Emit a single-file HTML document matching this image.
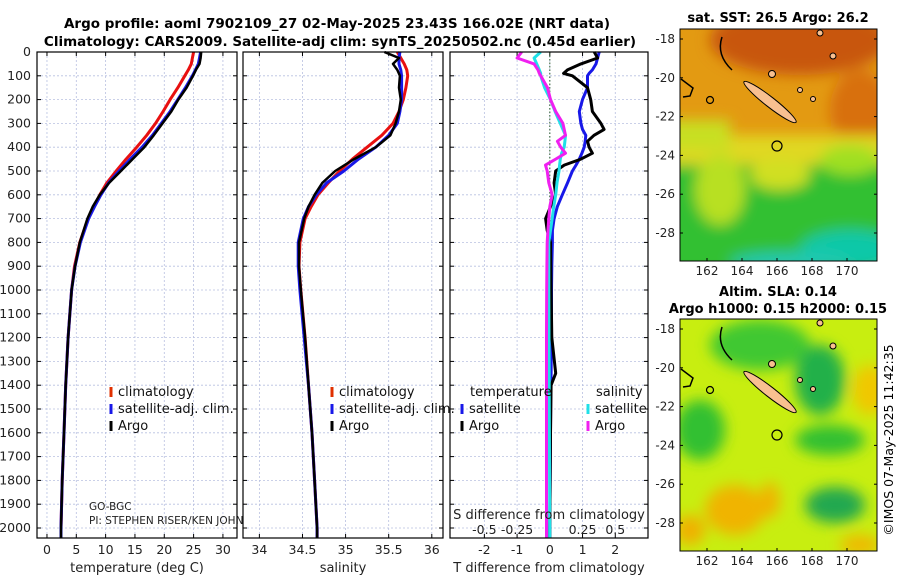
<!DOCTYPE html>
<html><head><meta charset="utf-8"><style>
html,body{margin:0;padding:0;background:#fff}
svg{display:block;font-family:"DejaVu Sans","Liberation Sans",sans-serif}
</style></head><body>
<svg id="fig" width="900" height="580" viewBox="0 0 900 580" xmlns="http://www.w3.org/2000/svg">
<defs>
<filter id="blur6" x="-50%" y="-50%" width="200%" height="200%"><feGaussianBlur stdDeviation="7"/></filter>
<clipPath id="cm1"><rect x="680" y="29" width="197" height="232"/></clipPath>
<clipPath id="cm2"><rect x="680" y="319" width="197" height="232"/></clipPath>
</defs>
<g font-weight="bold" font-size="13.5" text-anchor="middle">
<text x="337" y="28">Argo profile: aoml 7902109_27 02-May-2025 23.43S 166.02E (NRT data)</text>
<text x="340" y="46">Climatology: CARS2009. Satellite-adj clim: synTS_20250502.nc (0.45d earlier)</text>
</g>
<g id="panels"></g>

<!-- top map -->
<g>
<text x="778" y="22" font-size="13" font-weight="bold" text-anchor="middle">sat. SST: 26.5 Argo: 26.2</text>
<g clip-path="url(#cm1)">
<rect x="680" y="29" width="197" height="232" fill="#e39a12"/>
<g filter="url(#blur6)">
<ellipse cx="800" cy="40" rx="90" ry="35" fill="#c8560c"/>
<ellipse cx="860" cy="110" rx="30" ry="40" fill="#d87010"/>
<rect x="660" y="135" width="240" height="40" fill="#e0d820"/>
<rect x="660" y="120" width="70" height="30" fill="#c8e020"/>
<rect x="660" y="165" width="240" height="110" fill="#30c030"/>
<ellipse cx="720" cy="190" rx="25" ry="35" fill="#b8e020"/>
<ellipse cx="780" cy="175" rx="30" ry="15" fill="#d0e020"/>
<ellipse cx="850" cy="160" rx="30" ry="15" fill="#a0e020"/>
<ellipse cx="850" cy="250" rx="50" ry="20" fill="#10c8a8"/>
<ellipse cx="790" cy="262" rx="60" ry="10" fill="#20c8b0"/>
</g>
</g>
<rect x="680" y="29" width="197" height="232" fill="none" stroke="#000" stroke-width="1"/>
<ellipse cx="770" cy="102" rx="33" ry="5" transform="rotate(38 770 102)" fill="#f8c090" stroke="#000" stroke-width="1"/>
<path d="M722,37 Q716,55 732,70 M681,79 L693,88 L690,96 L683,97" fill="none" stroke="#000" stroke-width="1.5"/>
<circle cx="710" cy="100" r="3.5" fill="none" stroke="#000" stroke-width="1.2"/>
<circle cx="777" cy="146" r="5" fill="none" stroke="#000" stroke-width="1.2"/>
<circle cx="772" cy="74" r="3.5" fill="#f8c090" stroke="#000"/>
<circle cx="800" cy="90" r="2.5" fill="#f8c090" stroke="#000"/>
<circle cx="813" cy="99" r="2.5" fill="#f8c090" stroke="#000"/>
<circle cx="820" cy="33" r="3" fill="#f8c090" stroke="#000"/>
<circle cx="833" cy="56" r="3" fill="#f8c090" stroke="#000"/>
</g>

<!-- bottom map -->
<g>
<text x="778" y="296" font-size="13" font-weight="bold" text-anchor="middle">Altim. SLA: 0.14</text>
<text x="778" y="313" font-size="13" font-weight="bold" text-anchor="middle">Argo h1000: 0.15 h2000: 0.15</text>
<g clip-path="url(#cm2)">
<rect x="680" y="319" width="197" height="232" fill="#c8ee10"/>
<g filter="url(#blur6)">
<ellipse cx="760" cy="345" rx="50" ry="25" fill="#40c830"/>
<ellipse cx="820" cy="380" rx="25" ry="35" fill="#20b048"/>
<ellipse cx="700" cy="430" rx="25" ry="30" fill="#30c030"/>
<ellipse cx="830" cy="440" rx="35" ry="15" fill="#30c030"/>
<ellipse cx="835" cy="505" rx="30" ry="18" fill="#20a850"/>
<ellipse cx="870" cy="390" rx="18" ry="25" fill="#f0c800"/>
<ellipse cx="735" cy="510" rx="30" ry="25" fill="#f0b400"/>
<ellipse cx="770" cy="500" rx="10" ry="18" fill="#f0b400"/>
<ellipse cx="690" cy="530" rx="15" ry="15" fill="#f0b000"/>
<ellipse cx="860" cy="545" rx="20" ry="10" fill="#f0b800"/>
</g>
</g>
<rect x="680" y="319" width="197" height="232" fill="none" stroke="#000" stroke-width="1"/>
<ellipse cx="770" cy="392" rx="33" ry="5" transform="rotate(38 770 392)" fill="#f8c090" stroke="#000" stroke-width="1"/>
<path d="M722,327 Q716,345 732,360 M681,369 L693,378 L690,386 L683,387" fill="none" stroke="#000" stroke-width="1.5"/>
<circle cx="710" cy="390" r="3.5" fill="none" stroke="#000" stroke-width="1.2"/>
<circle cx="777" cy="435" r="5" fill="none" stroke="#000" stroke-width="1.2"/>
<circle cx="772" cy="364" r="3.5" fill="#f8c090" stroke="#000"/>
<circle cx="800" cy="380" r="2.5" fill="#f8c090" stroke="#000"/>
<circle cx="813" cy="389" r="2.5" fill="#f8c090" stroke="#000"/>
<circle cx="820" cy="323" r="3" fill="#f8c090" stroke="#000"/>
<circle cx="833" cy="346" r="3" fill="#f8c090" stroke="#000"/>
</g>
<text transform="translate(893,440) rotate(-90)" font-size="12.5" text-anchor="middle">©IMOS 07-May-2025 11:42:35</text>
<g id="maptix"></g>
</svg>
<script>
const NS="http://www.w3.org/2000/svg";
const depths=[0,25,50,75,100,150,200,250,300,350,400,450,500,550,600,650,700,800,900,1000,1200,1400,1600,1800,2000,2040];
const tClim=[25.0,24.8,24.6,24.1,23.5,22.3,21.0,19.8,18.5,17.0,15.3,13.5,11.8,10.2,9.0,8.0,7.0,5.6,4.7,4.2,3.6,3.2,2.9,2.6,2.4,2.4];
const tSat=[26.2,26.0,25.8,25.3,24.8,23.6,22.3,21.0,19.5,18.0,16.2,14.2,12.3,10.5,9.2,8.1,7.1,5.7,4.8,4.2,3.6,3.2,2.9,2.6,2.4,2.4];
const tArgo=[26.3,26.2,26.0,25.4,24.9,23.8,22.4,21.2,19.7,18.2,16.6,14.6,12.6,10.6,9.0,7.8,6.9,5.6,4.8,4.2,3.6,3.2,2.9,2.6,2.4,2.4];
const sClim=[35.6,35.64,35.68,35.71,35.72,35.70,35.67,35.62,35.55,35.42,35.25,35.08,34.93,34.8,34.68,34.6,34.53,34.47,34.46,34.48,34.53,34.57,34.61,34.64,34.67,34.67];
const sSat=[35.63,35.62,35.62,35.64,35.65,35.65,35.65,35.63,35.6,35.5,35.35,35.15,34.98,34.78,34.66,34.57,34.51,34.45,34.45,34.47,34.52,34.57,34.61,34.64,34.67,34.67];
const sArgo=[35.45,35.62,35.55,35.6,35.63,35.62,35.64,35.62,35.58,35.52,35.35,35.1,34.88,34.73,34.64,34.57,34.52,34.46,34.46,34.48,34.53,34.57,34.61,34.64,34.67,34.67];
const dDepths=[0,25,50,75,90,100,150,200,250,300,325,350,375,400,425,450,475,500,550,600,650,700,750,800,900,1000,1200,1350,1400,1600,2000,2040];
const dtArgo=[1.36,1.46,0.95,0.54,0.42,0.69,1.15,1.25,1.3,1.56,1.66,1.35,1.15,1.2,1.3,0.95,0.44,0.18,0.13,0.18,0.02,-0.13,-0.08,0.02,0.03,0.04,0.06,0.18,0.04,0.02,0.0,0.0];
const dtSat=[1.51,1.46,1.41,1.3,1.2,1.15,1.15,1.0,0.9,0.95,1.0,1.1,1.08,1.05,0.98,0.9,0.8,0.69,0.54,0.38,0.23,0.13,0.08,0.08,0.06,0.05,0.05,0.04,0.03,0.02,0.0,0.0];
const dsSat=[-0.07,-0.12,-0.1,-0.08,-0.07,-0.07,-0.04,0.005,0.04,0.08,0.1,0.12,0.115,0.11,0.09,0.08,0.075,0.07,0.055,0.045,0.03,0.018,0.005,-0.008,-0.008,-0.008,-0.006,-0.005,-0.005,-0.003,0,0];
const dsArgo=[-0.215,-0.25,-0.12,-0.09,-0.08,-0.07,-0.018,0.005,0.045,0.1,0.11,0.12,0.058,0.083,0.12,0.045,-0.033,-0.02,-0.008,0.018,0.0,-0.008,-0.015,-0.02,-0.022,-0.024,-0.025,-0.025,-0.025,-0.025,-0.025,-0.025];
const tTicks=[0,5,10,15,20,25,30];
const sTicks=[34,34.5,35,35.5,36];
const dTicks=[-2,-1,0,1,2];
const dsTicks=[-0.5,-0.25,0,0.25,0.5];
const pTicks=[0,100,200,300,400,500,600,700,800,900,1000,1100,1200,1300,1400,1500,1600,1700,1800,1900,2000];

const root=document.getElementById('panels');
function el(t,a,p){const e=document.createElementNS(NS,t);for(const k in a)e.setAttribute(k,a[k]);(p||root).appendChild(e);return e;}
function yS(p){return 52+(p/2042)*486;}
function panel(name,x0,x1,vmin,vmax,ticks,label){
  const g=el('g',{});
  
  
  const xs=v=>x0+(v-vmin)/(vmax-vmin)*(x1-x0);
  ticks.forEach(t=>{const x=xs(t);
    const gl=el('line',{x1:x,x2:x,y1:52,y2:538,stroke:'#b8c0e0','stroke-width':0.8,'stroke-dasharray':'2,2'},g);
    
    el('line',{x1:x,x2:x,y1:538,y2:534,stroke:'#000'},g);el('line',{x1:x,x2:x,y1:52,y2:56,stroke:'#000'},g);
    const tx=el('text',{x:x,y:554,'font-size':12.5,'text-anchor':'middle',fill:'#222'},g);tx.textContent=String(t);
    });
  pTicks.forEach(p=>{const y=yS(p);
    const gl=el('line',{x1:x0,x2:x1,y1:y,y2:y,stroke:'#b8c0e0','stroke-width':0.8,'stroke-dasharray':'2,2'},g);
    
    el('line',{x1:x0,x2:x0+4,y1:y,y2:y,stroke:'#000'},g);el('line',{x1:x1,x2:x1-4,y1:y,y2:y,stroke:'#000'},g);});
  const lb=el('text',{x:(x0+x1)/2,y:572,'font-size':13,'text-anchor':'middle',fill:'#222'},g);lb.textContent=label;
  
  return {g,xs,x0,x1};
}
function line(P,xsArr,vals,ds,color,name,w){
  const d=vals.map((v,i)=>(i?'L':'M')+P.xs(v).toFixed(1)+','+yS(ds[i]).toFixed(1)).join(' ');
  const pa=el('path',{d:d,fill:'none',stroke:color,'stroke-width':w||3,'stroke-linejoin':'round'},P.g);
  
}
function frame(P){el('rect',{x:P.x0,y:52,width:P.x1-P.x0,height:486,fill:'none',stroke:'#000','stroke-width':1.2},P.g);}
function legend(P,x,y,items){items.forEach((it,i)=>{
  const yy=y+i*17;
  const m=el('line',{x1:x,x2:x,y1:yy-9,y2:yy+1,stroke:it[1],'stroke-width':3},P.g);
  
  const t=el('text',{x:x+7,y:yy,'font-size':13,fill:'#111'},P.g);t.textContent=it[0];
  });}

// panel 1
const P1=panel('temperature-panel',37,237,-1.7,32.4,tTicks,'temperature (deg C)');
pTicks.forEach(p=>{const t=el('text',{x:31,y:yS(p)+4,'font-size':12.5,'text-anchor':'end',fill:'#222'},P1.g);t.textContent=p;
  });
line(P1,0,tClim,depths,'#e81010','temp-climatology-line');
line(P1,0,tSat,depths,'#1818e8','temp-satellite-line');
line(P1,0,tArgo,depths,'#000','temp-argo-line',2.5);
legend(P1,111,396,[['climatology','#e03000'],['satellite-adj. clim.','#1818e8'],['Argo','#000']]);
const go=el('text',{x:89,y:510,'font-size':10.5,fill:'#222'},P1.g);go.textContent='GO-BGC';

const pi=el('text',{x:89,y:524,'font-size':10.5,fill:'#222'},P1.g);pi.textContent='PI: STEPHEN RISER/KEN JOHN';

frame(P1);

// panel 2
const P2=panel('salinity-panel',243,443,33.81,36.13,sTicks,'salinity');
line(P2,0,sClim,depths,'#e81010','sal-climatology-line');
line(P2,0,sSat,depths,'#1818e8','sal-satellite-line');
line(P2,0,sArgo,depths,'#000','sal-argo-line',2.5);
legend(P2,332,396,[['climatology','#e03000'],['satellite-adj. clim.','#1818e8'],['Argo','#000']]);
frame(P2);

// panel 3
const P3=panel('difference-panel',450,648,-3.05,3.0,dTicks,'T difference from climatology');
const zx=P3.xs(0);
const zl=el('line',{x1:zx,x2:zx,y1:52,y2:538,stroke:'#2a5a2a','stroke-width':1,'stroke-dasharray':'1.5,2'},P3.g);

line(P3,0,dtSat,dDepths,'#1818e8','tdiff-satellite-line');
line(P3,0,dtArgo,dDepths,'#000','tdiff-argo-line');
line(P3,0,dsSat.map(v=>v*4),dDepths,'#20e0e8','sdiff-satellite-line');
line(P3,0,dsArgo.map(v=>v*4),dDepths,'#f020f0','sdiff-argo-line');
dsTicks.forEach(t=>{if(t===0)return;const tx=el('text',{x:P3.xs(t*4),y:534,'font-size':12.5,'text-anchor':'middle',fill:'#222'},P3.g);tx.textContent=String(t);
  });
const st=el('text',{x:549,y:519,'font-size':13,'text-anchor':'middle',fill:'#222'},P3.g);st.textContent='S difference from climatology';

const lt=el('text',{x:470,y:396,'font-size':13,fill:'#111'},P3.g);lt.textContent='temperature';

const ls=el('text',{x:596,y:396,'font-size':13,fill:'#111'},P3.g);ls.textContent='salinity';

legend(P3,462,413,[['satellite','#1818e8'],['Argo','#000']]);
legend(P3,588,413,[['satellite','#20e0e8'],['Argo','#f020f0']]);
frame(P3);

// map ticks
const mt=document.getElementById('maptix');
const lons=[162,164,166,168,170];
const lats=[-18,-20,-22,-24,-26,-28];
[[29,261],[319,551]].forEach((r,k)=>{
  lons.forEach(l=>{const x=707+(l-162)*17.5;
    el('line',{x1:x,x2:x,y1:r[1],y2:r[1]-3,stroke:'#000'},mt);
    const t=el('text',{x:x,y:r[1]+14,'font-size':12,'text-anchor':'middle',fill:'#222'},mt);t.textContent=l;
    });
  lats.forEach(l=>{const y=(k?329:39)+(-18-l)*19.4;
    el('line',{x1:680,x2:683,y1:y,y2:y,stroke:'#000'},mt);el('line',{x1:877,x2:874,y1:y,y2:y,stroke:'#000'},mt);
    const t=el('text',{x:675,y:y+4,'font-size':12,'text-anchor':'end',fill:'#222'},mt);t.textContent=l;
    });
});
</script>
</body></html>
